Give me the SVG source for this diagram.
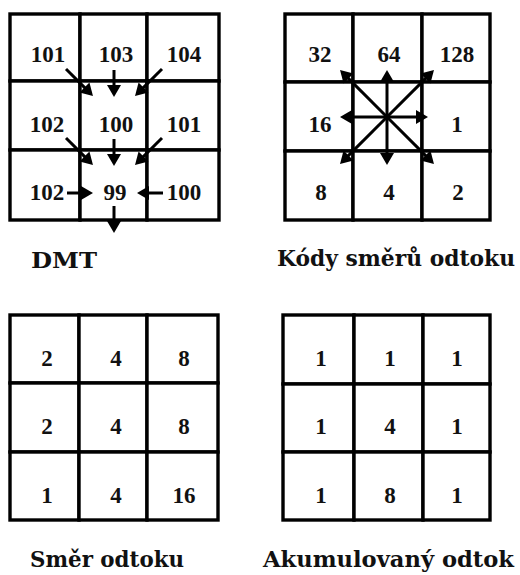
<svg xmlns="http://www.w3.org/2000/svg" width="520" height="575" viewBox="0 0 520 575">
<defs>
<style>
.cell{fill:#fff;stroke:#000;stroke-width:3.4}
.num{font-family:"Liberation Serif",serif;font-weight:bold;font-size:23px;fill:#111;text-anchor:middle}
.lbl{font-family:"DejaVu Serif","Liberation Serif",serif;font-weight:bold;font-size:21.5px;fill:#111}
.arr{stroke:#000;stroke-width:3;fill:none;marker-end:url(#ah)}
</style>
<marker id="ah" markerUnits="userSpaceOnUse" markerWidth="14" markerHeight="14" refX="2" refY="7" orient="auto" overflow="visible">
<path d="M0,0 L12,7 L0,14 z" fill="#000"/>
</marker>
</defs>
<rect width="520" height="575" fill="#fff"/>

<!-- DMT grid -->
<g id="dmt">
<g id="dmt-r1c1"><rect class="cell" x="10" y="14" width="70" height="67"/><text class="num" x="48" y="62">101</text></g>
<g id="dmt-r1c2"><rect class="cell" x="80" y="14" width="67" height="67"/><text class="num" x="116" y="62">103</text></g>
<g id="dmt-r1c3"><rect class="cell" x="147" y="14" width="72" height="67"/><text class="num" x="184" y="62">104</text></g>
<g id="dmt-r2c1"><rect class="cell" x="10" y="81" width="70" height="69"/><text class="num" x="47" y="132">102</text></g>
<g id="dmt-r2c2"><rect class="cell" x="80" y="81" width="67" height="69"/><text class="num" x="116" y="132">100</text></g>
<g id="dmt-r2c3"><rect class="cell" x="147" y="81" width="72" height="69"/><text class="num" x="184" y="132">101</text></g>
<g id="dmt-r3c1"><rect class="cell" x="10" y="150" width="70" height="70"/><text class="num" x="47" y="200">102</text></g>
<g id="dmt-r3c2"><rect class="cell" x="80" y="150" width="67" height="70"/><text class="num" x="115" y="200">99</text></g>
<g id="dmt-r3c3"><rect class="cell" x="147" y="150" width="72" height="70"/><text class="num" x="184" y="200">100</text></g>
<text id="dmt-label" class="lbl" x="31" y="268" textLength="66" lengthAdjust="spacingAndGlyphs">DMT</text>
</g>

<!-- Flow direction codes grid -->
<g id="codes">
<g id="codes-r1c1"><rect class="cell" x="285" y="14" width="68" height="68"/><text class="num" x="320" y="62">32</text></g>
<g id="codes-r1c2"><rect class="cell" x="353" y="14" width="69" height="68"/><text class="num" x="389" y="62">64</text></g>
<g id="codes-r1c3"><rect class="cell" x="422" y="14" width="68" height="68"/><text class="num" x="457" y="62">128</text></g>
<g id="codes-r2c1"><rect class="cell" x="285" y="82" width="68" height="69"/><text class="num" x="320" y="132">16</text></g>
<g id="codes-r2c2"><rect class="cell" x="353" y="82" width="69" height="69"/></g>
<g id="codes-r2c3"><rect class="cell" x="422" y="82" width="68" height="69"/><text class="num" x="457" y="132">1</text></g>
<g id="codes-r3c1"><rect class="cell" x="285" y="151" width="68" height="69"/><text class="num" x="321" y="200">8</text></g>
<g id="codes-r3c2"><rect class="cell" x="353" y="151" width="69" height="69"/><text class="num" x="389" y="200">4</text></g>
<g id="codes-r3c3"><rect class="cell" x="422" y="151" width="68" height="69"/><text class="num" x="458" y="200">2</text></g>
<text id="codes-label" class="lbl" x="277" y="266" textLength="238" lengthAdjust="spacingAndGlyphs">Kódy směrů odtoku</text>
</g>

<!-- Flow direction grid -->
<g id="smer">
<g id="smer-r1c1"><rect class="cell" x="10" y="315" width="69" height="68"/><text class="num" x="47" y="366">2</text></g>
<g id="smer-r1c2"><rect class="cell" x="79" y="315" width="68" height="68"/><text class="num" x="116" y="366">4</text></g>
<g id="smer-r1c3"><rect class="cell" x="147" y="315" width="71" height="68"/><text class="num" x="184" y="366">8</text></g>
<g id="smer-r2c1"><rect class="cell" x="10" y="383" width="69" height="69"/><text class="num" x="47" y="434">2</text></g>
<g id="smer-r2c2"><rect class="cell" x="79" y="383" width="68" height="69"/><text class="num" x="116" y="434">4</text></g>
<g id="smer-r2c3"><rect class="cell" x="147" y="383" width="71" height="69"/><text class="num" x="184" y="434">8</text></g>
<g id="smer-r3c1"><rect class="cell" x="10" y="452" width="69" height="68"/><text class="num" x="47" y="503">1</text></g>
<g id="smer-r3c2"><rect class="cell" x="79" y="452" width="68" height="68"/><text class="num" x="116" y="503">4</text></g>
<g id="smer-r3c3"><rect class="cell" x="147" y="452" width="71" height="68"/><text class="num" x="184" y="503">16</text></g>
<text id="smer-label" class="lbl" x="30" y="567" textLength="154" lengthAdjust="spacingAndGlyphs">Směr odtoku</text>
</g>

<!-- Accumulated flow grid -->
<g id="akum">
<g id="akum-r1c1"><rect class="cell" x="283" y="315" width="71" height="69"/><text class="num" x="321" y="366">1</text></g>
<g id="akum-r1c2"><rect class="cell" x="354" y="315" width="69" height="69"/><text class="num" x="390" y="366">1</text></g>
<g id="akum-r1c3"><rect class="cell" x="423" y="315" width="67" height="69"/><text class="num" x="457" y="366">1</text></g>
<g id="akum-r2c1"><rect class="cell" x="283" y="384" width="71" height="68"/><text class="num" x="321" y="434">1</text></g>
<g id="akum-r2c2"><rect class="cell" x="354" y="384" width="69" height="68"/><text class="num" x="390" y="434">4</text></g>
<g id="akum-r2c3"><rect class="cell" x="423" y="384" width="67" height="68"/><text class="num" x="457" y="434">1</text></g>
<g id="akum-r3c1"><rect class="cell" x="283" y="452" width="71" height="68"/><text class="num" x="321" y="503">1</text></g>
<g id="akum-r3c2"><rect class="cell" x="354" y="452" width="69" height="68"/><text class="num" x="390" y="503">8</text></g>
<g id="akum-r3c3"><rect class="cell" x="423" y="452" width="67" height="68"/><text class="num" x="457" y="503">1</text></g>
<text id="akum-label" class="lbl" x="263" y="567" textLength="251" lengthAdjust="spacingAndGlyphs">Akumulovaný odtok</text>
</g>

<!-- Connectors -->
<g id="connectors">
<line class="arr" x1="66" y1="69" x2="85.9" y2="88.9"/>
<line class="arr" x1="114" y1="70" x2="114" y2="87"/>
<line class="arr" x1="162" y1="69" x2="142.1" y2="88.9"/>
<line class="arr" x1="66" y1="138" x2="85.9" y2="157.9"/>
<line class="arr" x1="114" y1="139" x2="114" y2="156"/>
<line class="arr" x1="162" y1="138" x2="142.1" y2="157.9"/>
<line class="arr" x1="67" y1="193" x2="83" y2="193"/>
<line class="arr" x1="163" y1="193" x2="147" y2="193"/>
<line class="arr" x1="114" y1="206" x2="114" y2="223"/>

<line class="arr" x1="387" y1="117" x2="387" y2="80"/>
<line class="arr" x1="387" y1="117" x2="387" y2="155"/>
<line class="arr" x1="387" y1="117" x2="350" y2="117"/>
<line class="arr" x1="387" y1="117" x2="418" y2="117"/>
<line class="arr" x1="387" y1="117" x2="347.1" y2="77.1"/>
<line class="arr" x1="387" y1="117" x2="426.9" y2="77.1"/>
<line class="arr" x1="387" y1="117" x2="347.1" y2="156.9"/>
<line class="arr" x1="387" y1="117" x2="426.9" y2="156.9"/>
</g>
</svg>
